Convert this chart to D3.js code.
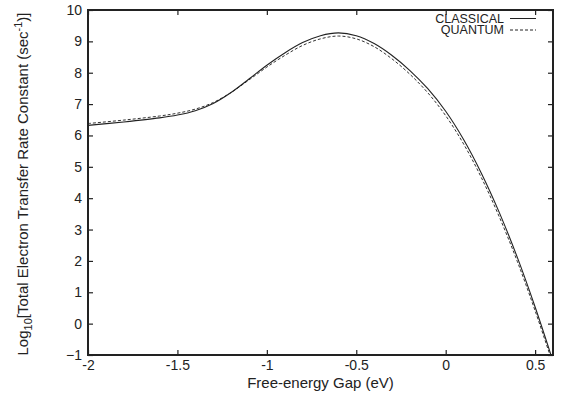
<!DOCTYPE html>
<html>
<head>
<meta charset="utf-8">
<script src="https://cdn.jsdelivr.net/npm/d3@7"></script>
<style>
  body { margin: 0; background: #fff; }
  text { font-family: "Liberation Sans", Arial, sans-serif; fill: #222; }
</style>
</head>
<body>
<div class="chart"></div>
<script>
// free-energy gap (eV)
var gap = [-2.0, -1.8, -1.6, -1.5, -1.4, -1.3, -1.2, -1.1, -1.0, -0.9, -0.8, -0.7, -0.6,
           -0.5, -0.4, -0.3, -0.2, -0.1, 0.0, 0.1, 0.2, 0.3, 0.4, 0.5, 0.6];
// log10 rate constants
var classical = [6.32, 6.43, 6.56, 6.65, 6.79, 7.02, 7.37, 7.80, 8.24, 8.63, 8.96, 9.18, 9.27,
                 9.18, 8.93, 8.55, 8.07, 7.49, 6.77, 5.87, 4.79, 3.54, 2.12, 0.53, -1.2];
var quantum   = [6.38, 6.49, 6.62, 6.71, 6.84, 7.05, 7.37, 7.77, 8.18, 8.55, 8.87, 9.08, 9.17,
                 9.08, 8.83, 8.44, 7.95, 7.36, 6.63, 5.73, 4.65, 3.40, 1.99, 0.41, -1.3];
var xTicks = [-2, -1.5, -1, -0.5, 0, 0.5];
var xTickLabels = ["-2", "-1.5", "-1", "-0.5", "0", "0.5"];
var yTicks = [-1, 0, 1, 2, 3, 4, 5, 6, 7, 8, 9, 10];
var seriesNames = ["CLASSICAL", "QUANTUM"];

var margin = { top: 10, right: 10, bottom: 43, left: 88 };
var width = 563 - margin.left - margin.right;
var height = 398 - margin.top - margin.bottom;

var svg = d3.select('.chart')
  .append('svg')
    .attr('width', 563)
    .attr('height', 398)
  .append('g')
    .attr('transform', `translate(${margin.left}, ${margin.top})`);

var x = d3.scaleLinear().domain([-2, 0.6]).range([0, width]);
var y = d3.scaleLinear().domain([-1, 10]).range([height, 0]);

svg.append('clipPath').attr('id', 'clip')
  .append('rect').attr('width', width).attr('height', height);

var line = d3.line()
  .x(function(d, i) { return x(gap[i]); })
  .y(function(d) { return y(d); })
  .curve(d3.curveCatmullRom.alpha(0.5));

svg.append('path')
  .datum(quantum)
  .attr('clip-path', 'url(#clip)')
  .attr('d', line)
  .attr('fill', 'none')
  .attr('stroke', '#333')
  .attr('stroke-width', 1)
  .attr('stroke-dasharray', '3,2');

svg.append('path')
  .datum(classical)
  .attr('clip-path', 'url(#clip)')
  .attr('d', line)
  .attr('fill', 'none')
  .attr('stroke', '#222')
  .attr('stroke-width', 1.1);

// axes, ticks point inward on all four sides
var xAxis = d3.axisBottom(x).tickValues(xTicks)
  .tickFormat(function(d, i) { return xTickLabels[i]; })
  .tickSize(-5).tickPadding(5);
var yAxis = d3.axisLeft(y).tickValues(yTicks).tickSize(-5).tickPadding(6);

var gx = svg.append('g').attr('transform', `translate(0, ${height})`).call(xAxis);
var gy = svg.append('g').call(yAxis);
var gt = svg.append('g').call(d3.axisTop(x).tickValues(xTicks).tickFormat('').tickSize(-5));
var gr = svg.append('g').attr('transform', `translate(${width}, 0)`)
  .call(d3.axisRight(y).tickValues(yTicks).tickFormat('').tickSize(-5));

[gx, gy, gt, gr].forEach(function(g) {
  g.select('.domain').remove();
  g.selectAll('line').attr('stroke', '#222').attr('stroke-width', 1.2);
  g.selectAll('text').style('font-size', '14px').attr('fill', '#222');
});

svg.append('rect')
  .attr('width', width)
  .attr('height', height)
  .attr('fill', 'none')
  .attr('stroke', '#222')
  .attr('stroke-width', 2);

// legend
var legend = svg.append('g').attr('transform', `translate(${416}, 0)`);
seriesNames.forEach(function(name, i) {
  var ly = 8.5 + i * 11.5;
  legend.append('text')
    .attr('x', 0).attr('y', ly + 4.3)
    .attr('text-anchor', 'end')
    .style('font-size', '12.5px')
    .text(name);
  legend.append('line')
    .attr('x1', 6).attr('x2', 32)
    .attr('y1', ly).attr('y2', ly)
    .attr('stroke', '#222')
    .attr('stroke-width', 1)
    .attr('stroke-dasharray', i === 1 ? '3,2' : null);
});

// axis titles
svg.append('text')
  .attr('x', width / 2)
  .attr('y', height + 33)
  .attr('text-anchor', 'middle')
  .style('font-size', '15px')
  .text('Free-energy Gap (eV)');

var yt = svg.append('text')
  .attr('transform', `translate(${27.5 - margin.left}, ${184 - margin.top}) rotate(-90)`)
  .attr('text-anchor', 'middle')
  .style('font-size', '15px');
yt.append('tspan').text('Log');
yt.append('tspan').attr('dy', 4).style('font-size', '11px').text('10');
yt.append('tspan').attr('dy', -4).text('[Total Electron Transfer Rate Constant (sec');
yt.append('tspan').attr('dy', -6).style('font-size', '11px').text('-1');
yt.append('tspan').attr('dy', 6).text(')]');
</script>
</body>
</html>
